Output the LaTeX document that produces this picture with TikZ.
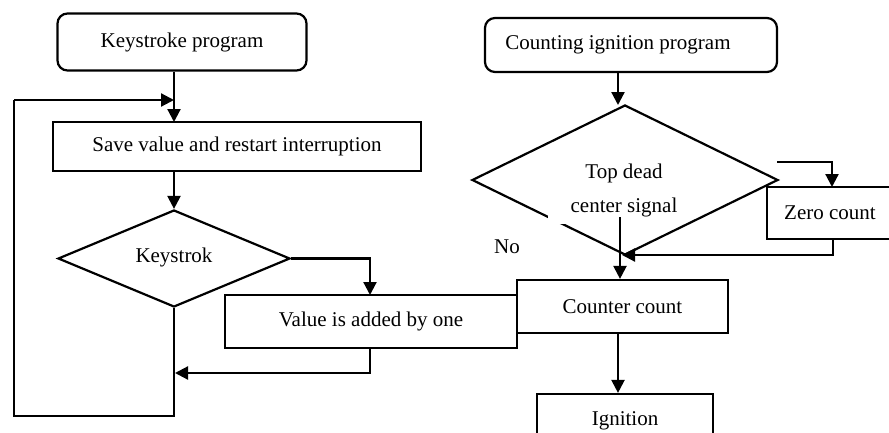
\documentclass[tikz,border=0pt]{standalone}
\usepackage{fontspec}
\setmainfont{Liberation Serif}
\usetikzlibrary{shapes.geometric,arrows.meta}
\begin{document}
\begin{tikzpicture}[x=1pt,y=-1pt,
  every node/.style={font=\fontsize{21}{25}\selectfont},
  ln/.style={line width=2.2pt},
  arr/.style={ln,-{Triangle[length=13pt,width=13pt]}},
  box/.style={draw,line width=2.2pt,inner sep=0pt,minimum width=#1},
  rbox/.style={draw,line width=2.2pt,inner sep=0pt,rounded corners=10pt,minimum width=#1},
  dia/.style={draw,line width=2.2pt,diamond,inner sep=0pt}]
\useasboundingbox (0,0) rectangle (889,432);
\clip (0,0) rectangle (889,432);
% left column
\node[rbox=249pt,minimum height=57pt] (kp) at (182,42) {Keystroke program};
\node[box=368pt,minimum height=49pt] (save) at (237,146.5) {Save value and restart interruption};
\node[dia,minimum width=232pt,minimum height=97pt] (key) at (174,258.5) {};
\node (keyt) at (174,257) {Keystrok};
\node[box=292pt,minimum height=53pt] (value) at (371,321.5) {Value is added by one};
% right column
\node[rbox=292pt,minimum height=54pt] (cig) at (631,45) {};
\node (cigt) at (618,45) {Counting ignition program};
\node[dia,minimum width=306pt,minimum height=150pt] (tdc) at (625,180) {};
\fill[white] (548,197) rectangle (684,224);
\node[align=center,font=\fontsize{21}{34}\selectfont] (tdct) at (624,190) {Top dead\\center signal};
\node (no) at (507,247) {No};
\node[box=126pt,minimum height=52pt] (zero) at (830,213) {Zero count};
\node[box=211pt,minimum height=53pt] (cc) at (622.5,306.5) {Counter count};
\node[box=176pt,minimum height=54pt] (ign) at (625,421) {Ignition};
% coordinates
\coordinate (savein) at (174,122);
\coordinate (loopin) at (174,100);
\coordinate (lb1) at (174,416);
\coordinate (lb2) at (14,416);
\coordinate (lb3) at (14,100);
\coordinate (vin) at (370,295);
\coordinate (vout) at (370,373);
\coordinate (merge) at (175,373);
\coordinate (tdcin) at (618,105);
\coordinate (tdcout) at (620,217);
\coordinate (zs) at (777,162);
\coordinate (zin) at (832,187);
\coordinate (zo1) at (833,255);
\coordinate (zo2) at (622,255);
% connectors
\draw[arr] (kp.south -| savein) -- (savein);
\draw[ln] (key.south) -- (lb1) -- (lb2) -- (lb3);
\draw[arr] (lb3) -- (loopin);
\draw[arr] (save.south -| key.north) -- (key.north);
\draw[arr] (key.east) -| (vin);
\draw[arr] (value.south -| vout) -- (vout) -- (merge);
\draw[arr] (cig.south -| tdcin) -- (tdcin);
\draw[arr] (tdcout) -- (cc.north -| tdcout);
\draw[arr] (zs) -| (zin);
\draw[arr] (zero.south -| zo1) -- (zo1) -- (zo2);
\draw[arr] (cc.south -| 618,0) -- (ign.north -| 618,0);
\end{tikzpicture}
\end{document}
